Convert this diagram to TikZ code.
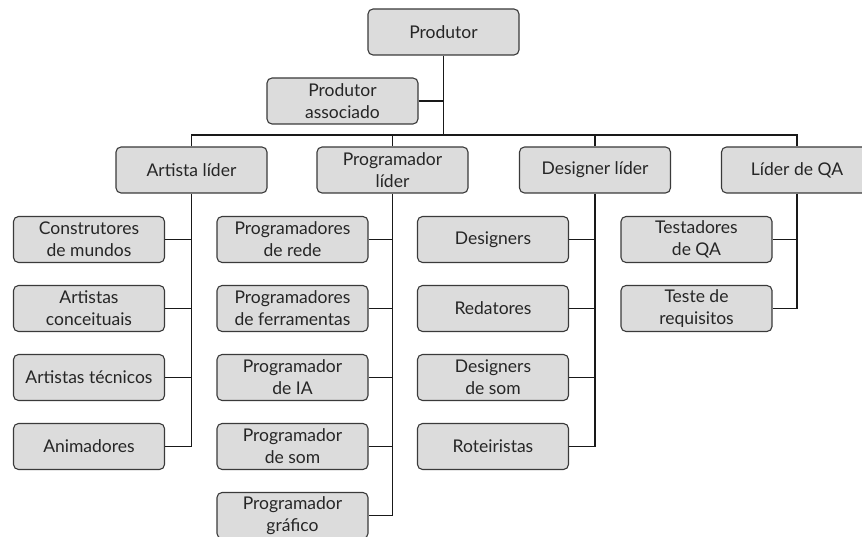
\documentclass[tikz,border=0pt]{standalone}
\usepackage{fontspec}
\setmainfont{Lato}
\definecolor{boxfill}{HTML}{DCDCDC}
\definecolor{boxline}{HTML}{3A3A3A}
\begin{document}
\begin{tikzpicture}[x=1pt,y=-1pt,
  orgbox/.style={draw=boxline,fill=boxfill,line width=1.1pt,rounded corners=5pt,
    minimum width=151pt,minimum height=46pt,align=center,inner sep=1pt,
    font=\fontsize{17.5}{22}\selectfont,text=black!85},
  link/.style={line width=1.8pt,black!90}]
\useasboundingbox (0,0) rectangle (862,537);
\clip (0,0) rectangle (862,537);
\coordinate (busL) at (191.5,135);
\coordinate (busR) at (797,135);
% top
\node[orgbox] (prod) at (443.5,32) {Produtor};
\node[orgbox] (assoc) at (342.5,101) {Produtor\\associado};
% leads
\node[orgbox] (art) at (191.5,170) {Artista líder};
\node[orgbox] (prog) at (392.5,170) {Programador\\líder};
\node[orgbox] (des) at (595,170) {Designer líder};
\node[orgbox] (qa) at (797,170) {Líder de QA};
% art column
\node[orgbox] (a1) at (89,239.5) {Construtores\\de mundos};
\node[orgbox] (a2) at (89,308.5) {Artistas\\conceituais};
\node[orgbox] (a3) at (89,377.5) {Artistas técnicos};
\node[orgbox] (a4) at (89,446.5) {Animadores};
% prog column
\node[orgbox] (p1) at (292.5,239.5) {Programadores\\de rede};
\node[orgbox] (p2) at (292.5,308.5) {Programadores\\de ferramentas};
\node[orgbox] (p3) at (292.5,377.5) {Programador\\de IA};
\node[orgbox] (p4) at (292.5,446.5) {Programador\\de som};
\node[orgbox] (p5) at (292.5,515.5) {Programador\\gráfico};
% designer column
\node[orgbox] (d1) at (493,239.5) {Designers};
\node[orgbox] (d2) at (493,308.5) {Redatores};
\node[orgbox] (d3) at (493,377.5) {Designers\\de som};
\node[orgbox] (d4) at (493,446.5) {Roteiristas};
% qa column
\node[orgbox] (q1) at (696.5,239.5) {Testadores\\de QA};
\node[orgbox] (q2) at (696.5,308.5) {Teste de\\requisitos};
% connectors
\draw[link] (prod.south) -- (prod.south |- busL);
\draw[link] (assoc.east) -- (assoc.east -| prod.south);
\draw[link] (art.north) -- (busL) -- (busR) -- (qa.north);
\draw[link] (prog.north) -- (prog.north |- busL);
\draw[link] (des.north) -- (des.north |- busL);
\draw[link] (art.south) |- (a4.east);
\foreach \c in {a1,a2,a3} \draw[link] (\c.east) -- (\c.east -| art.south);
\draw[link] (prog.south) |- (p5.east);
\foreach \c in {p1,p2,p3,p4} \draw[link] (\c.east) -- (\c.east -| prog.south);
\draw[link] (des.south) |- (d4.east);
\foreach \c in {d1,d2,d3} \draw[link] (\c.east) -- (\c.east -| des.south);
\draw[link] (qa.south) |- (q2.east);
\draw[link] (q1.east) -- (q1.east -| qa.south);
\end{tikzpicture}
\end{document}
